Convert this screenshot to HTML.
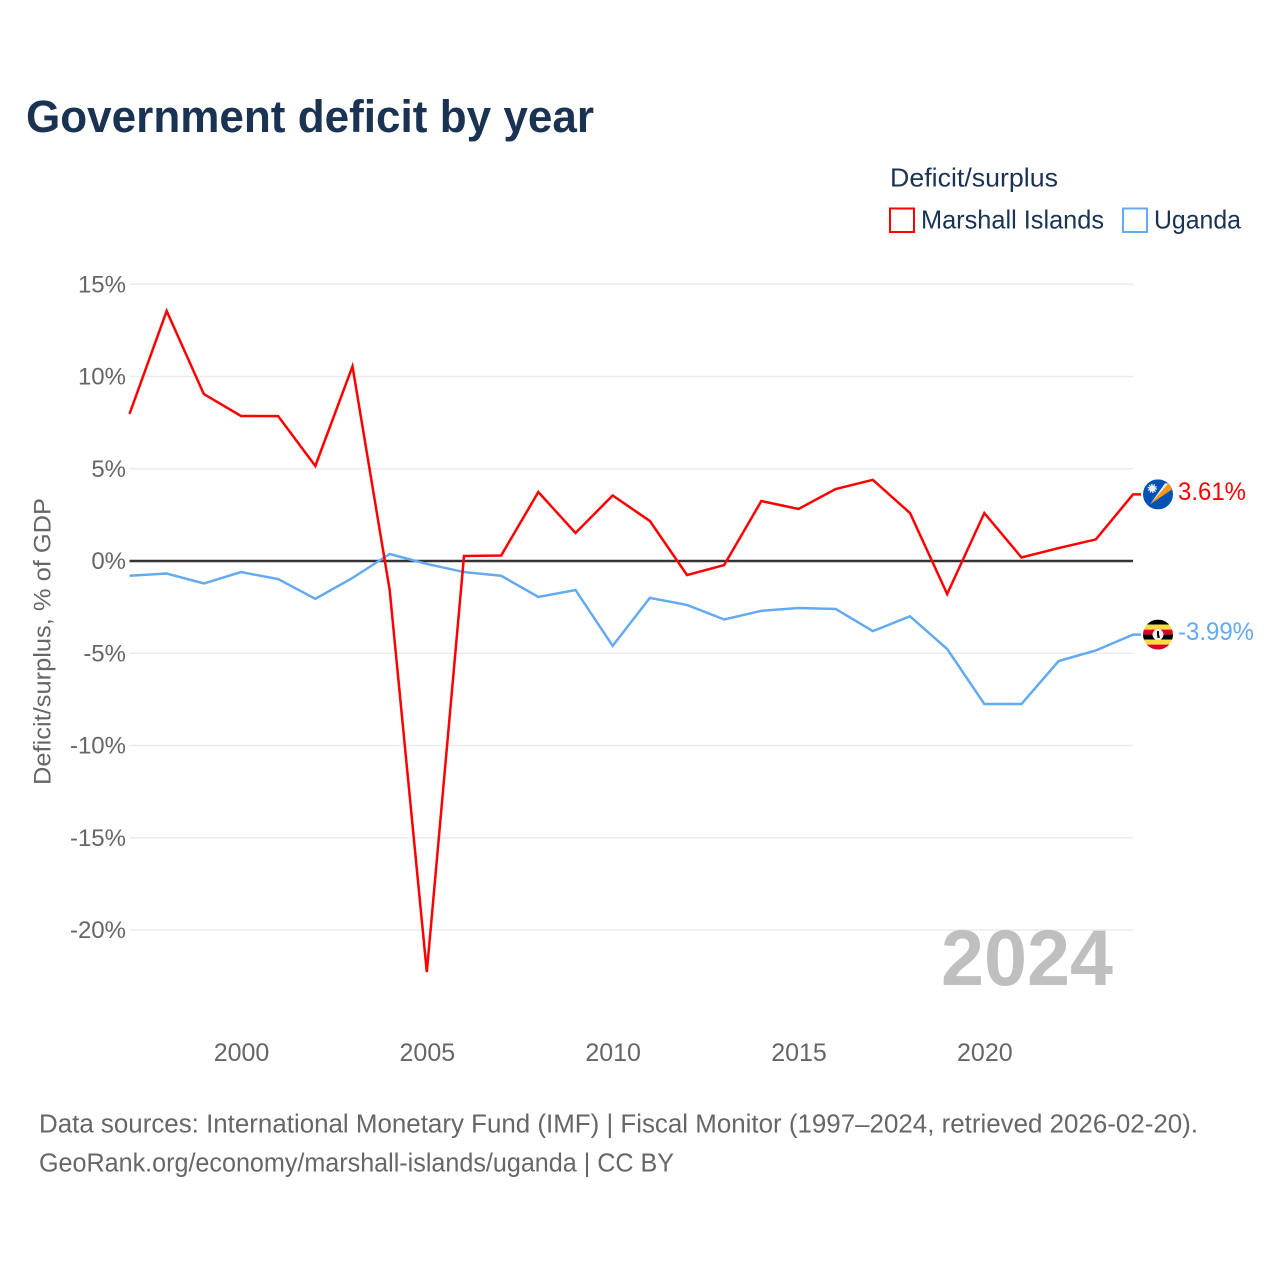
<!DOCTYPE html>
<html lang="en">
<head>
<meta charset="utf-8">
<title>Government deficit by year</title>
<style>
html,body{margin:0;padding:0;background:#fff;}
svg{display:block;}
text{font-family:"Liberation Sans",sans-serif;}
</style>
</head>
<body>
<svg id="chart" xmlns="http://www.w3.org/2000/svg" width="1280" height="1280" viewBox="0 0 1280 1280">
  <rect width="1280" height="1280" fill="#ffffff"/>
  <text x="26" y="132" font-size="45" font-weight="700" fill="#1a3353" textLength="568" lengthAdjust="spacingAndGlyphs">Government deficit by year</text>
  <text x="890" y="186.500" font-size="26" fill="#1a3353" textLength="168" lengthAdjust="spacingAndGlyphs">Deficit/surplus</text>
  <g>
    <rect x="890" y="208.500" width="24" height="23.500" fill="none" stroke="#ff0000" stroke-width="2"/>
    <text x="921" y="228.500" font-size="26" fill="#1a3353" textLength="183" lengthAdjust="spacingAndGlyphs">Marshall Islands</text>
  </g>
  <g>
    <rect x="1123" y="208.500" width="24" height="23.500" fill="none" stroke="#63aaf0" stroke-width="2"/>
    <text x="1154" y="228.500" font-size="26" fill="#1a3353" textLength="87" lengthAdjust="spacingAndGlyphs">Uganda</text>
  </g>
  <text transform="translate(50.500,641.500) rotate(-90)" text-anchor="middle" font-size="24.500" fill="#666666" textLength="287" lengthAdjust="spacingAndGlyphs">Deficit/surplus, % of GDP</text>
  <g id="grid"></g>
  <g id="yticks"></g>
  <g id="xticks"></g>
  <text x="941" y="985" font-size="79" font-weight="700" fill="#bfbfbf" textLength="172" lengthAdjust="spacingAndGlyphs">2024</text>
  <g id="series"></g>
  <defs>
    <clipPath id="flag-clip-mh"><circle cx="0" cy="0" r="15"/></clipPath>
    <clipPath id="flag-clip-ug"><circle cx="0" cy="0" r="15"/></clipPath>
  </defs>
  <g id="flag-mh">
    <g clip-path="url(#flag-clip-mh)">
      <rect x="-15" y="-15" width="30" height="30" fill="#0052b4"/>
      <polygon points="-8,10 7,-11 10.500,-11" fill="#f0f0f0"/>
      <polygon points="-8,10 10.500,-11 14,-5" fill="#ff9811"/>
      <circle cx="-5.700" cy="-6" r="3.200" fill="#f0f0f0"/>
      <circle cx="-5.700" cy="-6" r="3.800" fill="none" stroke="#f0f0f0" stroke-width="1.800" stroke-dasharray="1.200 1.200"/>
    </g>
  </g>
  <g id="flag-ug">
    <g clip-path="url(#flag-clip-ug)">
      <rect x="-15" y="-15" width="30" height="5" fill="#000000"/>
      <rect x="-15" y="-10" width="30" height="5" fill="#ffda44"/>
      <rect x="-15" y="-5" width="30" height="5" fill="#d80027"/>
      <rect x="-15" y="0" width="30" height="5" fill="#000000"/>
      <rect x="-15" y="5" width="30" height="5" fill="#ffda44"/>
      <rect x="-15" y="10" width="30" height="5" fill="#d80027"/>
      <circle cx="0" cy="0" r="5.500" fill="#f0f0f0"/>
      <path d="M-1,-3.500 L1,-3.500 L1,0 L2,3 L-0.500,3.500 L-1,0 Z" fill="#000000"/>
    </g>
  </g>
  <text id="label-mh" x="1178" font-size="25" fill="#ff0000" textLength="68" lengthAdjust="spacingAndGlyphs"></text>
  <text id="label-ug" x="1178" font-size="25" fill="#63aaf0" textLength="76" lengthAdjust="spacingAndGlyphs"></text>
  <text x="39" y="1132.500" font-size="25.500" fill="#666666" textLength="1159" lengthAdjust="spacingAndGlyphs">Data sources: International Monetary Fund (IMF) | Fiscal Monitor (1997–2024, retrieved 2026-02-20).</text>
  <text x="39" y="1171.500" font-size="25.500" fill="#666666" textLength="635" lengthAdjust="spacingAndGlyphs">GeoRank.org/economy/marshall-islands/uganda | CC BY</text>
</svg>
<script>
const years = [1997,1998,1999,2000,2001,2002,2003,2004,2005,2006,2007,2008,2009,2010,2011,2012,2013,2014,2015,2016,2017,2018,2019,2020,2021,2022,2023,2024];
const marshallIslands = [7.97,13.55,9.05,7.86,7.85,5.15,10.55,-1.57,-22.28,0.27,0.3,3.74,1.52,3.55,2.17,-0.76,-0.22,3.25,2.82,3.9,4.4,2.6,-1.79,2.6,0.19,0.7,1.17,3.61];
const uganda = [-0.8,-0.68,-1.22,-0.6,-0.98,-2.05,-0.92,0.38,-0.16,-0.6,-0.8,-1.95,-1.57,-4.6,-2.0,-2.38,-3.17,-2.7,-2.55,-2.6,-3.8,-3.0,-4.77,-7.75,-7.75,-5.42,-4.85,-3.99];
const yTickValues = [15,10,5,0,-5,-10,-15,-20];
const xTickValues = [2000,2005,2010,2015,2020];

const NS = 'http://www.w3.org/2000/svg';
function xScale(year) {
  return 129.5 + (year - 1997) * (1133 - 129.5) / 27;
}
function yScale(value) {
  return 561 - value * 18.45;
}
function make(tag, attrs, parent, content) {
  const el = document.createElementNS(NS, tag);
  for (const key in attrs) el.setAttribute(key, attrs[key]);
  if (content !== undefined) el.textContent = content;
  parent.appendChild(el);
  return el;
}

const gridGroup = document.getElementById('grid');
const yTickGroup = document.getElementById('yticks');
const xTickGroup = document.getElementById('xticks');
const seriesGroup = document.getElementById('series');

yTickValues.forEach(function (v) {
  if (v !== 0) {
    const line = make('line', {x1: 129.5, x2: 1133, y1: yScale(v), y2: yScale(v), stroke: '#ebebeb', 'stroke-width': 1.5}, gridGroup);
    
    
  }
  const label = make('text', {x: 126, y: yScale(v) + 8, 'text-anchor': 'end', 'font-size': 24, fill: '#666666'}, yTickGroup, v + '%');
  
  
});

xTickValues.forEach(function (y) {
  const label = make('text', {x: xScale(y) + 0.5, y: 1061, 'text-anchor': 'middle', 'font-size': 25, fill: '#666666'}, xTickGroup, String(y));
  
  
});

function drawSeries(values, color) {
  const last = values[values.length - 1];
  let d = values.map(function (v, i) {
    return (i ? 'L' : 'M') + xScale(years[i]).toFixed(2) + ',' + yScale(v).toFixed(2);
  }).join(' ');
  d += ' L' + (xScale(years[years.length - 1]) + 8) + ',' + yScale(last).toFixed(2);
  return make('path', {d: d, fill: 'none', stroke: color, 'stroke-width': 2.5, 'stroke-linejoin': 'miter'}, seriesGroup);
}

const zeroLine = make('line', {x1: 129.5, x2: 1133, y1: yScale(0), y2: yScale(0), stroke: '#333333', 'stroke-width': 2.4}, seriesGroup);



const ugandaLine = drawSeries(uganda, '#63aaf0');



const marshallLine = drawSeries(marshallIslands, '#ff0000');



function placeEnd(flagId, labelId, value) {
  const y = yScale(value);
  document.getElementById(flagId).setAttribute('transform', 'translate(1158,' + y.toFixed(2) + ')');
  const label = document.getElementById(labelId);
  label.setAttribute('y', (y + 5.5).toFixed(2));
  label.textContent = value.toFixed(2) + '%';
}
placeEnd('flag-mh', 'label-mh', marshallIslands[marshallIslands.length - 1]);
placeEnd('flag-ug', 'label-ug', uganda[uganda.length - 1]);
</script>
</body>
</html>
